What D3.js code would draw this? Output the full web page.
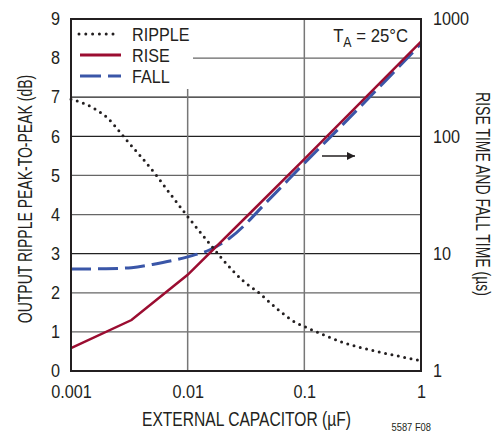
<!DOCTYPE html>
<html>
<head>
<meta charset="utf-8">
<script src="https://cdn.jsdelivr.net/npm/d3@7"></script>
<style>
  body { margin: 0; background: #fff; }
  text { font-family: 'Liberation Sans', Arial, sans-serif; fill: #231f20; }
</style>
</head>
<body>
<div id="chart"></div>
<script>
(function() {

  'use strict'

  // capacitance in uF
  var rippleCap = [0.001, 0.0015, 0.002, 0.003, 0.0055, 0.007, 0.01, 0.015, 0.02, 0.03, 0.04, 0.06, 0.083, 0.107, 0.22, 0.43, 0.69, 1];
  var rippleDb  = [6.95, 6.75, 6.5, 5.9, 4.97, 4.55, 3.95, 3.3, 2.85, 2.3, 2.02, 1.56, 1.25, 1.1, 0.72, 0.49, 0.36, 0.26];

  var riseCap = [0.001, 0.0033, 0.01, 0.034, 0.1, 1];
  var riseUs  = [1.57, 2.72, 6.6, 22, 64, 640];

  var fallCap = [0.001, 0.002, 0.0033, 0.005, 0.01, 0.0155, 0.023, 0.05, 0.1, 0.2, 0.5, 1];
  var fallUs  = [7.4, 7.45, 7.6, 8.1, 9.4, 10.8, 13.6, 29, 59, 118, 300, 615];

  var xTicks = [0.001, 0.01, 0.1, 1];
  var xTickLabels = ['0.001', '0.01', '0.1', '1'];
  var leftTicks = [0, 1, 2, 3, 4, 5, 6, 7, 8, 9];
  var rightTicks = [1, 10, 100, 1000];

  var width = 495, height = 433;
  var left = 71, right = 421, top = 19, bottom = 371;
  var ink = '#231f20';

  var svg = d3.select('#chart').append('svg')
    .attr('width', width)
    .attr('height', height);

  // squeeze text horizontally to mimic the condensed face
  var condense = function(sel, factor) {
    sel.each(function() {
      var w = this.getComputedTextLength();
      d3.select(this)
        .attr('textLength', w * factor)
        .attr('lengthAdjust', 'spacingAndGlyphs');
    });
    return sel;
  };

  var x = d3.scaleLog().domain([0.001, 1]).range([left, right]);
  var yL = d3.scaleLinear().domain([0, 9]).range([bottom, top]);
  var yR = d3.scaleLog().domain([1, 1000]).range([bottom, top]);

  // grid
  var grid = svg.append('g');
  grid.selectAll('line.h')
    .data(leftTicks.slice(1, -1))
    .enter().append('line')
    .attr('x1', left).attr('x2', right)
    .attr('y1', function(d) { return yL(d); })
    .attr('y2', function(d) { return yL(d); })
    .attr('stroke', function(d) { return d === 3 || d === 6 || d === 7 ? '#222' : '#666'; })
    .attr('stroke-width', 1.3);
  grid.selectAll('line.v')
    .data(xTicks.slice(1, -1))
    .enter().append('line')
    .attr('x1', function(d) { return x(d); })
    .attr('x2', function(d) { return x(d); })
    .attr('y1', top).attr('y2', bottom)
    .attr('stroke', '#777')
    .attr('stroke-width', 1.5);

  // legend background hides grid
  svg.append('rect')
    .attr('x', left).attr('y', top)
    .attr('width', 122).attr('height', 70)
    .attr('fill', '#fff');
  svg.append('rect')
    .attr('x', 330).attr('y', top + 2)
    .attr('width', 84).attr('height', 30)
    .attr('fill', '#fff');

  var lineX = function(caps) {
    return d3.line()
      .x(function(d, i) { return x(caps[i]); });
  };

  var rippleLine = lineX(rippleCap).y(function(d) { return yL(d); }).curve(d3.curveMonotoneX);
  var riseLine = lineX(riseCap).y(function(d) { return yR(d); });
  var fallLine = lineX(fallCap).y(function(d) { return yR(d); }).curve(d3.curveMonotoneX);

  svg.append('path')
    .attr('d', fallLine(fallUs))
    .attr('fill', 'none')
    .attr('stroke', '#3a56a8')
    .attr('stroke-width', 3)
    .attr('stroke-dasharray', '20 7');

  svg.append('path')
    .attr('d', riseLine(riseUs))
    .attr('fill', 'none')
    .attr('stroke', '#9b0d31')
    .attr('stroke-width', 2.5);

  svg.append('path')
    .attr('d', rippleLine(rippleDb))
    .attr('fill', 'none')
    .attr('stroke', ink)
    .attr('stroke-width', 3)
    .attr('stroke-linecap', 'round')
    .attr('stroke-dasharray', '0 6.5');

  // frame
  svg.append('rect')
    .attr('x', left).attr('y', top)
    .attr('width', right - left).attr('height', bottom - top)
    .attr('fill', 'none')
    .attr('stroke', ink)
    .attr('stroke-width', 2);

  // axes
  var axL = svg.append('g')
    .attr('transform', 'translate(' + left + ',0)')
    .call(d3.axisLeft(yL).tickValues(leftTicks).tickSize(0).tickPadding(11));
  var axR = svg.append('g')
    .attr('transform', 'translate(' + right + ',0)')
    .call(d3.axisRight(yR).tickValues(rightTicks).tickFormat(d3.format('d')).tickSize(0).tickPadding(12));
  var axB = svg.append('g')
    .attr('transform', 'translate(0,' + bottom + ')')
    .call(d3.axisBottom(x).tickValues(xTicks).tickFormat(function(d, i) { return xTickLabels[i]; }).tickSize(0).tickPadding(14));
  [axL, axR, axB].forEach(function(ax) {
    ax.attr('font-family', null).attr('font-size', null);
    ax.select('.domain').remove();
    condense(ax.selectAll('text')
      .style('font-size', '18px')
      .style('fill', ink), 0.9);
  });

  // titles
  condense(svg.append('text')
    .attr('x', 246.5)
    .attr('y', 426)
    .attr('text-anchor', 'middle')
    .style('font-size', '20px')
    .text('EXTERNAL CAPACITOR (\u00b5F)'), 0.78);
  condense(svg.append('text')
    .attr('transform', 'translate(32,199) rotate(-90)')
    .attr('text-anchor', 'middle')
    .style('font-size', '20px')
    .text('OUTPUT RIPPLE PEAK-TO-PEAK (dB)'), 0.7);
  condense(svg.append('text')
    .attr('transform', 'translate(476,194) rotate(90)')
    .attr('text-anchor', 'middle')
    .style('font-size', '20px')
    .text('RISE TIME AND FALL TIME (\u00b5s)'), 0.7);
  condense(svg.append('text')
    .attr('x', 431).attr('y', 431)
    .attr('text-anchor', 'end')
    .style('font-size', '11px')
    .text('5587 F08'), 0.85);

  // T_A label
  var ta = svg.append('text')
    .attr('x', 408).attr('y', 42)
    .attr('text-anchor', 'end')
    .style('font-size', '19px');
  ta.append('tspan').text('T');
  ta.append('tspan').attr('dy', 5).style('font-size', '14px').text('A');
  ta.append('tspan').attr('dy', -5).text(' = 25\u00b0C');
  condense(ta, 0.88);

  // arrow
  svg.append('defs').append('marker')
    .attr('id', 'arrow')
    .attr('viewBox', '0 0 10 10')
    .attr('refX', 10).attr('refY', 5)
    .attr('markerWidth', 12).attr('markerHeight', 8)
    .attr('markerUnits', 'userSpaceOnUse')
    .attr('orient', 'auto')
    .append('path')
    .attr('d', 'M0,0 L10,5 L0,10 z')
    .attr('fill', ink);
  svg.append('line')
    .attr('x1', 322).attr('x2', 355)
    .attr('y1', 156).attr('y2', 156)
    .attr('stroke', ink)
    .attr('stroke-width', 1.3)
    .attr('marker-end', 'url(#arrow)');

  // legend
  var legend = [
    { name: 'RIPPLE', stroke: ink, dash: '0 6.8', cap: 'round', x1: 79, x2: 116 },
    { name: 'RISE', stroke: '#9b0d31', dash: null, cap: 'butt', x1: 80, x2: 121 },
    { name: 'FALL', stroke: '#3a56a8', dash: '21 7', cap: 'butt', x1: 80, x2: 121 }
  ];
  var lg = svg.append('g').selectAll('g')
    .data(legend)
    .enter().append('g')
    .attr('transform', function(d, i) { return 'translate(0,' + (34 + i * 21) + ')'; });
  lg.append('line')
    .attr('x1', function(d) { return d.x1; })
    .attr('x2', function(d) { return d.x2; })
    .attr('stroke', function(d) { return d.stroke; })
    .attr('stroke-width', 3)
    .attr('stroke-linecap', function(d) { return d.cap; })
    .attr('stroke-dasharray', function(d) { return d.dash; });
  condense(lg.append('text')
    .attr('x', 132).attr('y', 7)
    .style('font-size', '19px')
    .text(function(d) { return d.name; }), 0.85);

})();
</script>
</body>
</html>
